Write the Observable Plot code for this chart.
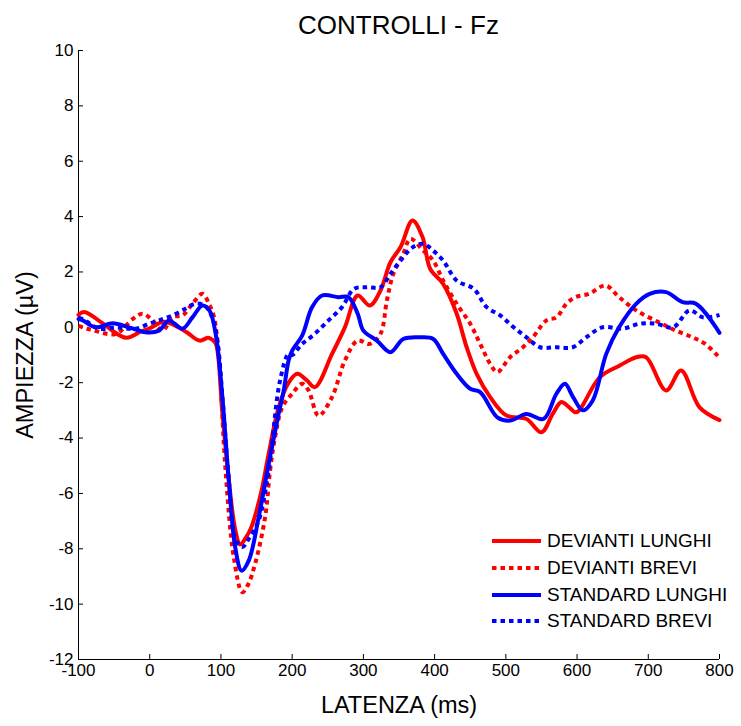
<!DOCTYPE html>
<html>
<head>
<meta charset="utf-8">
<script src="https://cdn.jsdelivr.net/npm/d3@7"></script>
<script src="https://cdn.jsdelivr.net/npm/@observablehq/plot@0.6"></script>
<style>
  body { margin: 0; background: #fff; font-family: "Liberation Sans", Arial, sans-serif; }
  #wrap { position: relative; width: 741px; height: 726px; }
  #title { position: relative; height: 40px; }
  #title span { position: absolute; left: 78px; width: 641px; top: 12px; text-align: center; font-size: 26px; line-height: 26px; color: #000; }
  #legend { position: absolute; left: 490px; top: 528px; font-size: 19px; color: #000; }
  #legend .row { display: flex; align-items: center; height: 26.7px; white-space: nowrap; }
  #legend svg { margin-right: 5px; }
</style>
</head>
<body>
<div id="wrap">
  <div id="title"><span>CONTROLLI - Fz</span></div>
  <div id="chart"></div>
  <div id="legend"></div>
</div>
<script>
// ---- data ----
const xTicks = [-100, 0, 100, 200, 300, 400, 500, 600, 700, 800];
const yTicks = [-12, -10, -8, -6, -4, -2, 0, 2, 4, 6, 8, 10];
const seriesNames = ["DEVIANTI LUNGHI", "DEVIANTI BREVI", "STANDARD LUNGHI", "STANDARD BREVI"];

const devLunghiT = [-100, -92, -66, -45, -32, -12, -1, 20, 40, 52, 70, 82, 88, 93, 102, 111, 120, 127, 135, 143, 157, 166, 181, 195, 207, 220, 232, 256, 274, 292, 309, 324, 338, 352, 369, 383, 394, 412, 431, 445, 459, 478, 501, 529, 550, 566, 578, 589, 599, 632, 660, 683, 697, 725, 746, 772, 800];
const devLunghiV = [0.45, 0.55, 0.14, -0.25, -0.38, -0.15, -0.05, 0.2, 0.0, -0.18, -0.48, -0.38, -0.45, -0.6, -3.1, -5.5, -7.3, -7.85, -7.6, -7.2, -5.9, -4.7, -2.9, -2.0, -1.68, -1.9, -2.16, -0.96, 0.0, 1.15, 0.79, 1.33, 2.35, 2.89, 3.86, 3.26, 2.1, 1.57, 0.49, -0.72, -1.68, -2.52, -3.19, -3.31, -3.79, -3.12, -2.7, -2.89, -3.07, -1.8, -1.38, -1.08, -1.08, -2.28, -1.56, -2.89, -3.35];

const devBreviT = [-100, -94, -80, -48, -24, -10, 4, 18, 32, 46, 60, 74, 84, 90, 97, 106, 118, 130, 138, 148, 162, 169, 176, 186, 200, 214, 223, 237, 256, 274, 292, 309, 324, 333, 342, 356, 366, 384, 398, 412, 431, 450, 464, 478, 488, 506, 524, 538, 557, 571, 585, 598, 617, 640, 659, 683, 715, 739, 762, 780, 800];
const devBreviV = [0.05, 0.0, -0.1, -0.24, 0.3, 0.49, 0.25, -0.12, 0.37, 0.43, 0.85, 1.21, 0.8, 0.4, -1.0, -5.0, -8.3, -9.57, -9.3, -8.54, -6.86, -5.17, -3.97, -2.89, -2.4, -2.04, -2.28, -3.19, -2.52, -1.2, -0.48, -0.6, -0.23, 0.97, 1.93, 2.66, 3.2, 2.77, 2.41, 1.69, 0.85, 0.13, -0.6, -1.32, -1.62, -1.08, -0.72, -0.36, 0.25, 0.36, 0.85, 1.09, 1.21, 1.51, 1.09, 0.61, 0.18, -0.12, -0.36, -0.6, -1.1];

const stdLunghiT = [-100, -94, -76, -52, -29, -6, 13, 27, 46, 60, 74, 84, 93, 102, 111, 120, 129, 139, 153, 167, 181, 188, 195, 200, 214, 228, 242, 265, 279, 292, 300, 319, 338, 356, 380, 398, 412, 431, 450, 464, 488, 506, 529, 553, 571, 583, 594, 608, 622, 641, 659, 683, 702, 725, 748, 767, 800];
const stdLunghiV = [0.3, 0.25, 0.0, 0.15, 0.0, -0.18, -0.12, 0.25, -0.05, 0.36, 0.79, 0.6, -0.3, -2.52, -5.53, -7.94, -8.79, -8.43, -6.86, -4.93, -3.13, -2.3, -1.2, -0.84, -0.3, 0.73, 1.15, 1.09, 1.09, 0.49, -0.12, -0.48, -0.9, -0.42, -0.36, -0.42, -0.96, -1.68, -2.22, -2.34, -3.25, -3.37, -3.13, -3.31, -2.4, -2.04, -2.5, -3.0, -2.64, -0.96, 0.0, 0.85, 1.21, 1.27, 0.91, 0.85, -0.2];

const stdBreviT = [-100, -94, -71, -48, -20, -1, 13, 32, 50, 64, 77, 87, 95, 102, 111, 120, 130, 140, 153, 167, 183, 195, 200, 214, 232, 251, 270, 287, 305, 324, 338, 352, 369, 384, 398, 412, 431, 455, 473, 492, 511, 529, 548, 571, 594, 613, 636, 664, 688, 711, 735, 758, 777, 800];
const stdBreviV = [0.35, 0.3, -0.05, 0.0, -0.05, 0.13, 0.25, 0.43, 0.67, 0.85, 0.79, 0.4, -0.5, -2.5, -5.5, -7.6, -7.94, -7.6, -6.98, -5.17, -1.92, -0.96, -1.0, -0.6, -0.23, 0.25, 0.73, 1.39, 1.45, 1.45, 1.93, 2.41, 2.89, 3.02, 2.77, 2.41, 1.69, 1.39, 0.73, 0.43, 0.0, -0.36, -0.72, -0.72, -0.72, -0.36, 0.0, -0.05, 0.13, 0.13, 0.0, 0.61, 0.36, 0.45];

const seriesColors = ["#ff0000", "#ff0000", "#0000ff", "#0000ff"];
const seriesDash = [null, "4.5,4", null, "4.5,4"];

// ---- build ----
const seriesT = [devLunghiT, devBreviT, stdLunghiT, stdBreviT];
const seriesV = [devLunghiV, devBreviV, stdLunghiV, stdBreviV];
const rows = seriesT.map((ts, i) => ts.map((t, j) => ({t, v: seriesV[i][j]})));

const font = '"Liberation Sans", Arial, sans-serif';
const lineMarks = rows.map((data, i) => Plot.line(data, {
  x: "t", y: "v",
  stroke: seriesColors[i],
  strokeWidth: 4,
  strokeDasharray: seriesDash[i] || undefined,
  strokeLinecap: seriesDash[i] ? "butt" : "round",
  strokeLinejoin: "round",
  curve: "catmull-rom"
}));

const chart = Plot.plot({
  width: 741,
  height: 686,
  marginTop: 10,
  marginBottom: 67,
  marginLeft: 78,
  marginRight: 22,
  style: {fontFamily: font, fontSize: "17px", color: "#000", background: "#fff", overflow: "visible"},
  x: {domain: [-100, 800]},
  y: {domain: [-12, 10]},
  marks: [
    Plot.ruleX([-100], {stroke: "#000"}),
    Plot.ruleY([-12], {stroke: "#000"}),
    // inward tick marks (Matlab style)
    Plot.ruleX(xTicks, {y1: 10, y2: -12, insetTop: 604, stroke: "#000"}),
    Plot.ruleY(yTicks, {x1: -100, x2: 800, insetRight: 636, stroke: "#000"}),
    Plot.axisX({ticks: xTicks, tickSize: 0, tickPadding: 4, label: null, fontSize: 17, tickFormat: d => String(d)}),
    Plot.axisY({ticks: yTicks, tickSize: 0, tickPadding: 5, label: null, fontSize: 17, tickFormat: d => String(d)}),
    ...lineMarks,
    Plot.text(["LATENZA (ms)"], {text: d => d, frameAnchor: "bottom", dy: 53, fontSize: 23.5, textAnchor: "middle"}),
    Plot.text(["AMPIEZZA (µV)"], {text: d => d, frameAnchor: "left", dx: -53, rotate: -90, fontSize: 23.5, textAnchor: "middle"})
  ]
});
document.getElementById("chart").appendChild(chart);

// legend (inside plot area, bottom right)
const legend = document.getElementById("legend");
seriesNames.forEach((name, i) => {
  const row = document.createElement("div");
  row.className = "row";
  row.innerHTML = `<svg width="52" height="10"><line x1="2" y1="5" x2="51" y2="5" stroke="${seriesColors[i]}" stroke-width="4" ${seriesDash[i] ? `stroke-dasharray="${seriesDash[i]}"` : ""}/></svg><span>${name}</span>`;
  legend.appendChild(row);
});
</script>
</body>
</html>
